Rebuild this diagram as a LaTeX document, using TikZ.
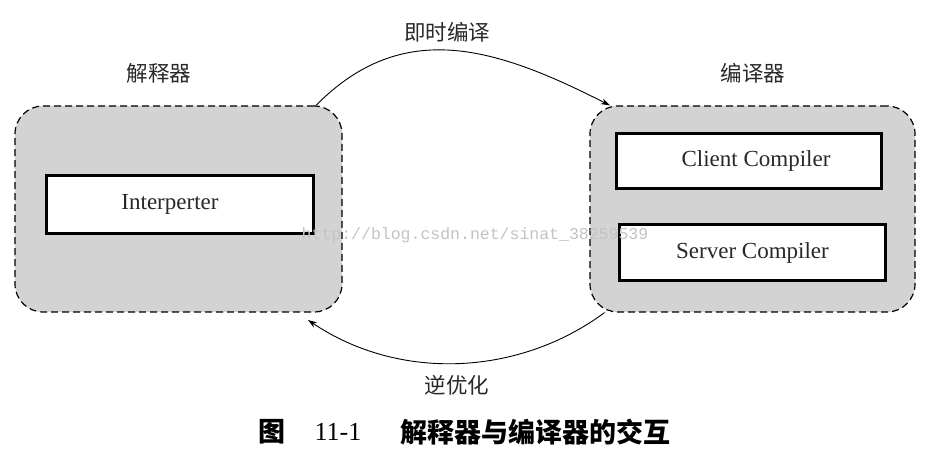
\documentclass[tikz,border=0pt]{standalone}
\usepackage{fontspec}
\setmainfont{Liberation Serif}
\newfontfamily\cjk{Noto Sans CJK SC}
\newfontfamily\wmfont{Liberation Mono}
\usetikzlibrary{arrows.meta}
\definecolor{boxgray}{RGB}{211,211,211}
\definecolor{inkgray}{RGB}{40,40,40}
\definecolor{wmgray}{RGB}{195,195,195}
\begin{document}
\begin{tikzpicture}[x=1pt,y=-1pt,
  group/.style={draw=black, line width=1.2pt, dash pattern=on 7pt off 4pt, fill=boxgray, rounded corners=28pt, inner sep=0pt},
  unit/.style={draw=black, line width=3pt, fill=white, inner sep=0pt, font=\fontsize{23}{25}\selectfont, text=inkgray},
  title/.style={font=\cjk\fontsize{21.5}{24}\selectfont, text=inkgray},
  flow/.style={line width=0.9pt, -{Stealth[length=9pt,width=6pt]}}]
\useasboundingbox (0,0) rectangle (930,449);
\fill[white] (0,0) rectangle (930,449);
% groups
\node[group, minimum width=327pt, minimum height=206pt] (L) at (178.5,209) {};
\node[group, minimum width=325pt, minimum height=206pt] (R) at (752.5,209) {};
% units
\node[unit, minimum width=267pt, minimum height=58pt] (I) at (180,204.5) {\hspace*{-20pt}Interperter};
\node[unit, minimum width=265pt, minimum height=55pt] (C) at (749,161) {\hspace*{14pt}Client Compiler};
\node[unit, minimum width=266pt, minimum height=56pt] (S) at (752.5,252.5) {Server Compiler};
% titles
\node[title] (tL) at (159,73) {解释器};
\node[title] (tR) at (753,73) {编译器};
\node[title] (jit) at (447,32) {即时编译};
\node[title] (deopt) at (457,385) {逆优化};
% arrows
\draw[flow] (L.37) .. controls +(87,-88) and +(-114,-58) .. (R.144);
\coordinate (back) at (308,320);
\draw[flow] (R.215) .. controls +(-85,63) and +(92,62) .. (back);
% caption
\node[font=\cjk\bfseries\fontsize{27}{30}\selectfont] (cap1) at (272,432) {图};
\node[font=\fontsize{26}{28}\selectfont] (cap2) at (338,432) {11-1};
\node[font=\cjk\bfseries\fontsize{27}{30}\selectfont] (cap3) at (535,432) {解释器与编译器的交互};
% watermark
\node[font=\wmfont\fontsize{16.5}{18}\selectfont, text=wmgray] (wm) at (475,235) {http://blog.csdn.net/sinat\_38259539};
\end{tikzpicture}
\end{document}
